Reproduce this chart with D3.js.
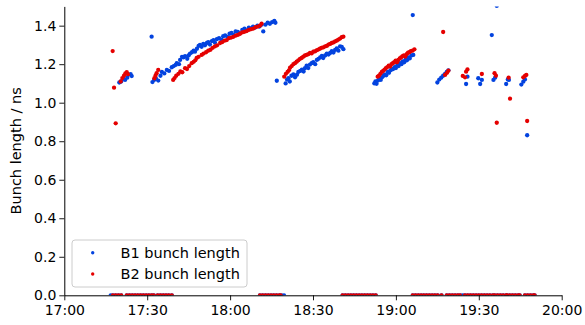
<!DOCTYPE html>
<html>
<head>
<meta charset="utf-8">
<script src="https://cdn.jsdelivr.net/npm/d3@7"></script>
<style>
	body { margin: 0; background: #fff; }
	svg { font-family: "DejaVu Sans", sans-serif; }
</style>
</head>
<body>
<div id="chart"></div>
<script>

// time is minutes after 17:00
const tickMinutes = [0, 30, 60, 90, 120, 150, 180];
const tickLabels = ["17:00", "17:30", "18:00", "18:30", "19:00", "19:30", "20:00"];
const yTicks = [0, 0.2, 0.4, 0.6, 0.8, 1.0, 1.2, 1.4];

const seriesNames = ["B1 bunch length", "B2 bunch length"];

// B1 measured bunch length [minute, ns]
const b1 = [
	[19.9,1.105],[20.6,1.11],[21.3,1.125],[22.0,1.118],[22.8,1.13],[23.2,1.145],[24.0,1.148],[24.4,1.138],
	[31.6,1.343],
	[31.9,1.107],[32.5,1.118],[33.2,1.125],[34.0,1.115],[34.8,1.14],[35.3,1.16],[36.2,1.152],[37.1,1.17],
	[37.9,1.165],[38.9,1.184],[39.6,1.19],[40.3,1.196],[40.7,1.205],[41.5,1.2],[41.9,1.222],[42.6,1.238],
	[43.1,1.235],[43.7,1.242],[44.5,1.228],[45.0,1.245],[45.5,1.255],[46.2,1.262],[46.8,1.27],[47.3,1.265],
	[48.0,1.28],[48.6,1.295],[49.1,1.3],[49.7,1.29],[50.3,1.305],[50.9,1.298],[51.6,1.31],[52.1,1.315],
	[52.7,1.302],[53.4,1.32],[54.0,1.325],[54.5,1.312],[55.2,1.33],[56.0,1.335],[56.8,1.328],[57.5,1.345],
	[58.2,1.35],[59.0,1.342],[59.8,1.358],[60.5,1.362],[61.3,1.352],[62.0,1.37],[62.8,1.368],[63.6,1.36],
	[64.4,1.378],[65.2,1.385],[66.0,1.375],[66.8,1.39],[67.5,1.385],[68.3,1.395],[69.1,1.39],[69.9,1.4],
	[70.6,1.395],[71.4,1.405],[72.0,1.37],[72.8,1.405],[73.6,1.415],[74.4,1.41],[75.2,1.418],[76.0,1.425],[76.4,1.415],
	[76.9,1.114],
	[80.1,1.1],[80.6,1.12],[81.1,1.127],[81.6,1.11],[82.2,1.14],[82.9,1.147],[83.5,1.132],[84.2,1.145],
	[84.7,1.16],[85.4,1.165],[86.0,1.172],[86.6,1.162],[87.1,1.179],[87.7,1.192],[88.3,1.18],[88.9,1.198],
	[89.5,1.205],[90.1,1.21],[90.8,1.2],[91.4,1.222],[92.0,1.228],[92.6,1.235],[93.2,1.243],[93.7,1.232],
	[94.4,1.245],[95.0,1.255],[95.6,1.25],[96.2,1.258],[96.8,1.268],[97.4,1.26],[98.0,1.274],[98.6,1.282],
	[99.2,1.27],[99.8,1.292],[100.4,1.29],[101.0,1.278],
	[112.2,1.1],[112.6,1.11],[113.0,1.098],[113.5,1.115],[114.0,1.125],[114.5,1.118],[115.0,1.132],[115.5,1.14],
	[116.0,1.145],[116.5,1.142],[117.0,1.16],[117.5,1.155],[118.0,1.168],[118.5,1.172],[119.0,1.175],[119.5,1.185],
	[120.0,1.18],[120.5,1.195],[121.0,1.19],[121.5,1.205],[122.0,1.2],[122.5,1.215],[123.0,1.21],[123.5,1.225],
	[124.0,1.22],[124.5,1.235],[125.0,1.23],[125.6,1.245],[126.3,1.248],
	[126.1,1.455],
	[135.0,1.105],[135.7,1.12],[136.4,1.13],[137.1,1.14],[137.8,1.15],[138.4,1.16],[139.0,1.168],
	[145.4,1.097],[145.9,1.135],
	[149.8,1.127],[150.5,1.097],[151.1,1.118],
	[154.7,1.351],[155.3,1.118],[155.9,1.13],[156.5,1.503],
	[159.9,1.097],[160.5,1.121],[160.9,1.118],
	[165.4,1.094],[166.1,1.109],[166.7,1.121],[167.5,0.831]
];

// B2 measured bunch length [minute, ns]
const b2 = [
	[17.5,1.268],[18.0,1.078],[18.6,0.893],
	[20.4,1.11],[21.0,1.128],[21.6,1.14],[22.1,1.152],[22.6,1.158],[23.0,1.148],
	[32.6,1.127],[33.0,1.14],[33.4,1.153],[34.0,1.17],
	[39.4,1.118],[39.9,1.128],[40.5,1.14],[41.3,1.15],[42.0,1.162],[42.7,1.158],[43.7,1.179],[44.4,1.175],
	[45.2,1.19],[46.1,1.205],[46.8,1.212],[47.4,1.22],[47.9,1.232],[48.6,1.238],[49.7,1.248],[50.4,1.255],
	[51.3,1.262],[52.1,1.27],[52.9,1.275],[53.7,1.285],[54.5,1.292],[55.3,1.298],[56.4,1.31],[57.2,1.315],
	[58.0,1.322],[58.8,1.325],[59.6,1.335],[60.4,1.338],[61.2,1.342],[62.0,1.348],[62.8,1.352],[63.6,1.358],
	[64.4,1.365],[65.2,1.368],[66.0,1.372],[66.8,1.378],[67.6,1.382],[68.4,1.385],[69.2,1.392],[70.0,1.395],
	[70.8,1.4],[71.4,1.41],
	[79.6,1.135],[80.2,1.15],[80.8,1.16],[81.3,1.168],[81.7,1.182],[82.3,1.19],[82.9,1.2],[83.5,1.205],
	[84.1,1.213],[84.7,1.22],[85.3,1.228],[85.9,1.232],[86.5,1.239],[87.1,1.245],[87.7,1.248],[88.3,1.252],
	[88.9,1.258],[89.5,1.256],[90.1,1.265],[90.7,1.266],[91.3,1.272],[91.9,1.276],[92.5,1.28],[93.1,1.285],
	[93.7,1.287],[94.4,1.292],[95.0,1.295],[95.6,1.302],[96.2,1.305],[96.8,1.31],[97.4,1.313],[98.0,1.318],
	[98.6,1.322],[99.2,1.328],[99.8,1.333],[100.4,1.34],[101.0,1.343],
	[113.4,1.135],[113.9,1.14],[114.4,1.15],[114.9,1.16],[115.4,1.165],[115.9,1.172],[116.4,1.18],[116.9,1.185],
	[117.4,1.192],[117.9,1.188],[118.4,1.2],[118.9,1.205],[119.4,1.21],[119.9,1.218],[120.4,1.21],[120.9,1.222],
	[121.4,1.23],[121.9,1.235],[122.4,1.242],[122.9,1.245],[123.4,1.24],[123.9,1.252],[124.4,1.26],[124.9,1.262],
	[125.4,1.268],[126.0,1.27],[126.7,1.277],
	[137.1,1.367],
	[137.8,1.144],[138.5,1.155],[139.0,1.166],
	[144.2,1.139],[145.0,1.132],[145.4,1.161],[145.9,1.173],
	[151.1,1.149],
	[155.7,1.153],[156.2,1.14],[156.5,0.896],
	[160.8,1.13],[161.3,1.021],
	[166.1,1.132],[166.7,1.139],[167.2,1.144],[167.5,0.905]
];

// readings at zero while no beam
const b1Zero = [
	16.8,17.6,18.6,19.6,20.6,
	22.6,23.6,24.6,25.6,26.6,27.6,28.6,29.6,30.6,31.6,32.4,
	33.8,34.8,35.8,36.8,37.8,38.9,
	70.8,71.8,72.8,73.8,74.8,75.8,76.8,77.8,78.6,79.5,
	100.7,101.7,102.7,103.7,104.7,105.7,106.7,107.7,108.7,109.7,110.7,111.7,112.7,
	126.1,127.1,128.1,129.1,130.1,131.1,132.1,133.1,134.1,135.1,136.5,
	138.4,139.4,140.4,141.4,142.4,143.3,144.2,
	145.0,146.0,147.0,148.0,149.0,150.0,151.0,152.0,153.0,154.0,155.1,
	155.8,156.8,157.8,158.8,159.9,
	160.2,161.2,162.2,163.2,164.2,164.8,
	166.7,167.7,168.7,169.7,170.2
];
const b2Zero = [
	17.6,18.6,19.6,20.6,
	22.6,23.6,24.6,25.6,26.6,27.6,28.6,29.6,30.6,31.6,32.4,
	33.8,34.8,35.8,36.8,37.8,38.9,
	70.8,71.8,72.8,73.8,74.8,75.8,76.8,77.8,78.3,
	100.7,101.7,102.7,103.7,104.7,105.7,106.7,107.7,108.7,109.7,110.7,111.7,112.7,
	126.1,127.1,128.1,129.1,130.1,131.1,132.1,133.1,134.1,135.1,136.5,
	138.4,139.4,140.4,141.4,142.4,143.2,
	145.0,146.0,147.0,148.0,149.0,150.0,151.0,152.0,153.0,154.0,155.1,
	155.8,156.8,157.8,158.8,159.9,
	160.2,161.2,162.2,163.2,164.2,164.8,
	166.7,167.7,168.7,169.7,170.2
];

const colors = ["#0343df", "#e50000"];

const width = 585, height = 325;
const margin = {left: 64.3, right: 23.3, top: 6.4, bottom: 29.7};

const sx = d3.scaleLinear()
	.domain([0, 180])
	.range([margin.left, width - margin.right]);

const sy = d3.scaleLinear()
	.domain([0, 1.5])
	.range([height - margin.bottom, margin.top]);

const svg = d3.select("#chart")
	.append("svg")
	.attr("width", width)
	.attr("height", height);

svg.append("defs").append("clipPath")
	.attr("id", "plotclip")
	.append("rect")
	.attr("x", sx(0))
	.attr("y", sy(1.5))
	.attr("width", sx(180) - sx(0))
	.attr("height", sy(0) - sy(1.5));

const plot = svg.append("g").attr("clip-path", "url(#plotclip)");

const all = [
	b1.concat(b1Zero.map(t => [t, 0])),
	b2.concat(b2Zero.map(t => [t, 0]))
];

all.forEach((pts, i) => {
	plot.append("g")
		.attr("fill", colors[i])
		.selectAll("circle")
		.data(pts)
		.enter()
		.append("circle")
		.attr("cx", d => sx(d[0]))
		.attr("cy", d => sy(d[1]))
		.attr("r", 2.15);
});

// axes
const xAxis = d3.axisBottom(sx)
	.tickValues(tickMinutes)
	.tickFormat((d, i) => tickLabels[i])
	.tickSize(5)
	.tickSizeOuter(0);

const yAxis = d3.axisLeft(sy)
	.tickValues(yTicks)
	.tickFormat(d3.format(".1f"))
	.tickSize(5)
	.tickSizeOuter(0);

const gx = svg.append("g")
	.attr("transform", `translate(0,${sy(0)})`)
	.call(xAxis);

const gy = svg.append("g")
	.attr("transform", `translate(${sx(0)},0)`)
	.call(yAxis);

[gx, gy].forEach(g => {
	g.selectAll("text")
		.attr("font-size", "14px")
		.attr("fill", "#000")
		.attr("font-family", "DejaVu Sans");
	g.selectAll("line").attr("stroke", "#000").attr("stroke-width", 0.9);
	g.select(".domain").attr("stroke", "#000").attr("stroke-width", 1);
});
gx.selectAll("text").attr("dy", "0.95em").attr("y", 6);
gy.selectAll("text").attr("x", -8);

svg.append("text")
	.attr("transform", `translate(21,${(sy(0) + sy(1.5)) / 2}) rotate(-90)`)
	.attr("text-anchor", "middle")
	.attr("font-size", "14.5px")
	.text("Bunch length / ns");

// legend
const legend = svg.append("g").attr("transform", "translate(72,240)");

legend.append("rect")
	.attr("width", 175)
	.attr("height", 47)
	.attr("rx", 3)
	.attr("fill", "#fff")
	.attr("fill-opacity", 0.8)
	.attr("stroke", "#ccc")
	.attr("stroke-width", 1);

const item = legend.selectAll(".item")
	.data(seriesNames)
	.enter()
	.append("g")
	.attr("transform", (d, i) => `translate(0,${12.7 + i * 21.3})`);

item.append("circle")
	.attr("cx", 20.7)
	.attr("r", 1.7)
	.attr("fill", (d, i) => colors[i]);

item.append("text")
	.attr("x", 48.5)
	.attr("dy", "0.35em")
	.attr("font-size", "14.5px")
	.text(d => d);

</script>
</body>
</html>
